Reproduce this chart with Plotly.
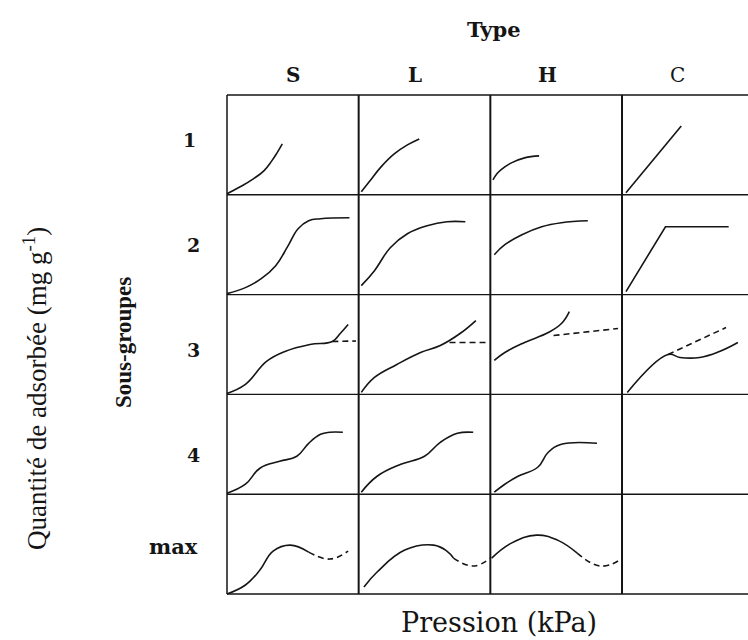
import plotly.graph_objects as go

# ---------------- data (local cell coordinates: 0..1 in x and y) ----------------
col_labels = ["S", "L", "H", "C"]
row_labels = ["1", "2", "3", "4", "max"]

# Row 1
s1_x = [0.0, 0.10, 0.20, 0.28, 0.34, 0.38, 0.42]
s1_y = [0.01, 0.08, 0.16, 0.24, 0.34, 0.42, 0.51]
l1_x = [0.02, 0.08, 0.17, 0.27, 0.37, 0.46]
l1_y = [0.03, 0.13, 0.28, 0.41, 0.50, 0.56]
h1_x = [0.02, 0.05, 0.08, 0.16, 0.26, 0.37]
h1_y = [0.15, 0.21, 0.25, 0.32, 0.37, 0.39]
c1_x = [0.03, 0.45]
c1_y = [0.02, 0.69]

# Row 2
s2_x = [0.0, 0.14, 0.26, 0.37, 0.46, 0.54, 0.62, 0.71, 0.93]
s2_y = [0.01, 0.07, 0.16, 0.29, 0.48, 0.66, 0.74, 0.76, 0.77]
l2_x = [0.02, 0.12, 0.24, 0.37, 0.52, 0.67, 0.81]
l2_y = [0.09, 0.24, 0.47, 0.61, 0.69, 0.73, 0.73]
h2_x = [0.03, 0.11, 0.24, 0.39, 0.54, 0.74]
h2_y = [0.40, 0.50, 0.60, 0.68, 0.72, 0.74]
c2_x = [0.03, 0.33, 0.81]
c2_y = [0.03, 0.68, 0.68]

# Row 3
s3_x = [0.0, 0.14, 0.30, 0.44, 0.63, 0.80, 0.86, 0.92]
s3_y = [0.01, 0.10, 0.33, 0.43, 0.50, 0.53, 0.61, 0.70]
s3d_x = [0.80, 0.98]
s3d_y = [0.53, 0.535]
l3_x = [0.02, 0.12, 0.29, 0.47, 0.62, 0.77, 0.89]
l3_y = [0.02, 0.17, 0.30, 0.42, 0.49, 0.61, 0.74]
l3d_x = [0.69, 0.99]
l3d_y = [0.52, 0.52]
h3_x = [0.03, 0.11, 0.26, 0.44, 0.54, 0.60]
h3_y = [0.34, 0.42, 0.52, 0.62, 0.71, 0.83]
h3d_x = [0.48, 0.97]
h3d_y = [0.59, 0.66]
c3_x = [0.04, 0.35, 0.44, 0.59, 0.74, 0.88]
c3_y = [0.02, 0.40, 0.37, 0.37, 0.43, 0.52]
c3d_x = [0.35, 0.79]
c3d_y = [0.40, 0.67]

# Row 4
s4_x = [0.0, 0.14, 0.25, 0.40, 0.53, 0.62, 0.71, 0.78, 0.88]
s4_y = [0.01, 0.10, 0.26, 0.33, 0.38, 0.51, 0.60, 0.62, 0.62]
l4_x = [0.02, 0.14, 0.32, 0.50, 0.62, 0.75, 0.87]
l4_y = [0.02, 0.18, 0.30, 0.38, 0.52, 0.61, 0.62]
h4_x = [0.03, 0.11, 0.21, 0.36, 0.44, 0.54, 0.81]
h4_y = [0.02, 0.10, 0.18, 0.27, 0.42, 0.50, 0.51]

# Row "max"
s5_x = [0.0, 0.14, 0.25, 0.35, 0.48, 0.62]
s5_y = [0.0, 0.09, 0.24, 0.43, 0.49, 0.42]
s5d_x = [0.62, 0.78, 0.92]
s5d_y = [0.42, 0.35, 0.43]
l5_x = [0.04, 0.14, 0.35, 0.57, 0.67, 0.72]
l5_y = [0.07, 0.22, 0.44, 0.49, 0.43, 0.36]
l5d_x = [0.72, 0.87, 1.0]
l5d_y = [0.36, 0.28, 0.36]
h5_x = [0.01, 0.16, 0.35, 0.51, 0.66]
h5_y = [0.36, 0.51, 0.59, 0.54, 0.41]
h5d_x = [0.66, 0.83, 0.97]
h5d_y = [0.41, 0.28, 0.33]

# (row index, col index, x, y, dashed, smooth)
curves = [
    (0, 0, s1_x, s1_y, False, True), (0, 1, l1_x, l1_y, False, True),
    (0, 2, h1_x, h1_y, False, True), (0, 3, c1_x, c1_y, False, False),
    (1, 0, s2_x, s2_y, False, True), (1, 1, l2_x, l2_y, False, True),
    (1, 2, h2_x, h2_y, False, True), (1, 3, c2_x, c2_y, False, False),
    (2, 0, s3_x, s3_y, False, True), (2, 0, s3d_x, s3d_y, True, False),
    (2, 1, l3_x, l3_y, False, True), (2, 1, l3d_x, l3d_y, True, False),
    (2, 2, h3_x, h3_y, False, True), (2, 2, h3d_x, h3d_y, True, False),
    (2, 3, c3_x, c3_y, False, True), (2, 3, c3d_x, c3d_y, True, False),
    (3, 0, s4_x, s4_y, False, True), (3, 1, l4_x, l4_y, False, True),
    (3, 2, h4_x, h4_y, False, True),
    (4, 0, s5_x, s5_y, False, True), (4, 0, s5d_x, s5d_y, True, True),
    (4, 1, l5_x, l5_y, False, True), (4, 1, l5d_x, l5d_y, True, True),
    (4, 2, h5_x, h5_y, False, True), (4, 2, h5d_x, h5d_y, True, True),
]

# ---------------- layout geometry (pixels) ----------------
W, H = 748, 640
grid_left, grid_top, grid_bottom = 227, 95, 594
col_w = 131.67
n_rows = len(row_labels)
row_h = (grid_bottom - grid_top) / n_rows
pad = 4
plot_l = grid_left - pad
plot_t = grid_top - pad
plot_b = grid_bottom + pad
x0 = -pad / col_w
x1 = (W - grid_left) / col_w
y0 = -pad / row_h
y1 = n_rows + pad / row_h

def px(xp):
    return (xp - plot_l) / (W - plot_l)

def py(yp):
    return (plot_b - yp) / (plot_b - plot_t)

fig = go.Figure()
ink = "#151515"
for r, c, xs, ys, dashed, smooth in curves:
    fig.add_trace(go.Scatter(
        x=[c + v for v in xs],
        y=[(n_rows - 1 - r) + v for v in ys],
        mode="lines",
        line=dict(color=ink, width=1.6,
                  dash="6px,4px" if dashed else "solid",
                  shape="spline" if smooth else "linear",
                  smoothing=1.2 if smooth else None),
        hoverinfo="skip", showlegend=False,
    ))

shapes = []
for k in range(n_rows + 1):
    shapes.append(dict(type="line", xref="x", yref="y", x0=0, x1=4, y0=k, y1=k,
                       line=dict(color=ink, width=1.4)))
for k in range(4):
    shapes.append(dict(type="line", xref="x", yref="y", x0=k, x1=k, y0=0, y1=n_rows,
                       line=dict(color=ink, width=2 if k > 0 else 1.5)))

serif = "DejaVu Serif"
ann = []
ann.append(dict(text="<b>Type</b>", x=px(494), y=py(29), font=dict(family=serif, size=21)))
header_px = [293, 415, 547, 677]
for lab, xp in zip(col_labels, header_px):
    t = f"<b>{lab}</b>" if lab != "C" else lab
    ann.append(dict(text=t, x=px(xp), y=py(75), font=dict(family=serif, size=20)))
row_py = [140, 245, 350, 455, 546]
row_px = [189, 193, 193, 193, 173]
row_sz = [19, 19, 19, 19, 21]
for lab, xp, yp, sz in zip(row_labels, row_px, row_py, row_sz):
    ann.append(dict(text=f"<b>{lab}</b>", x=px(xp), y=py(yp),
                    font=dict(family=serif, size=sz)))
ann.append(dict(text="<b>Sous-groupes</b>", x=px(123), y=py(343), textangle=-90,
                font=dict(family="Liberation Serif", size=23)))
ann.append(dict(text="Quantité de adsorbée (mg g<sup>-1</sup>)", x=px(35), y=py(389),
                textangle=-90, font=dict(family="Liberation Serif", size=27)))
ann.append(dict(text="Pression (kPa)", x=px(499), y=py(622),
                font=dict(family=serif, size=27)))
for a in ann:
    a.update(xref="paper", yref="paper", showarrow=False, xanchor="center", yanchor="middle")
    a["font"]["color"] = ink

fig.update_layout(
    width=W, height=H,
    margin=dict(l=plot_l, r=0, t=plot_t, b=H - plot_b),
    paper_bgcolor="white", plot_bgcolor="white",
    xaxis=dict(range=[x0, x1], visible=False, fixedrange=True),
    yaxis=dict(range=[y0, y1], visible=False, fixedrange=True),
    shapes=shapes, annotations=ann, showlegend=False,
)
fig.write_html("out.html")
